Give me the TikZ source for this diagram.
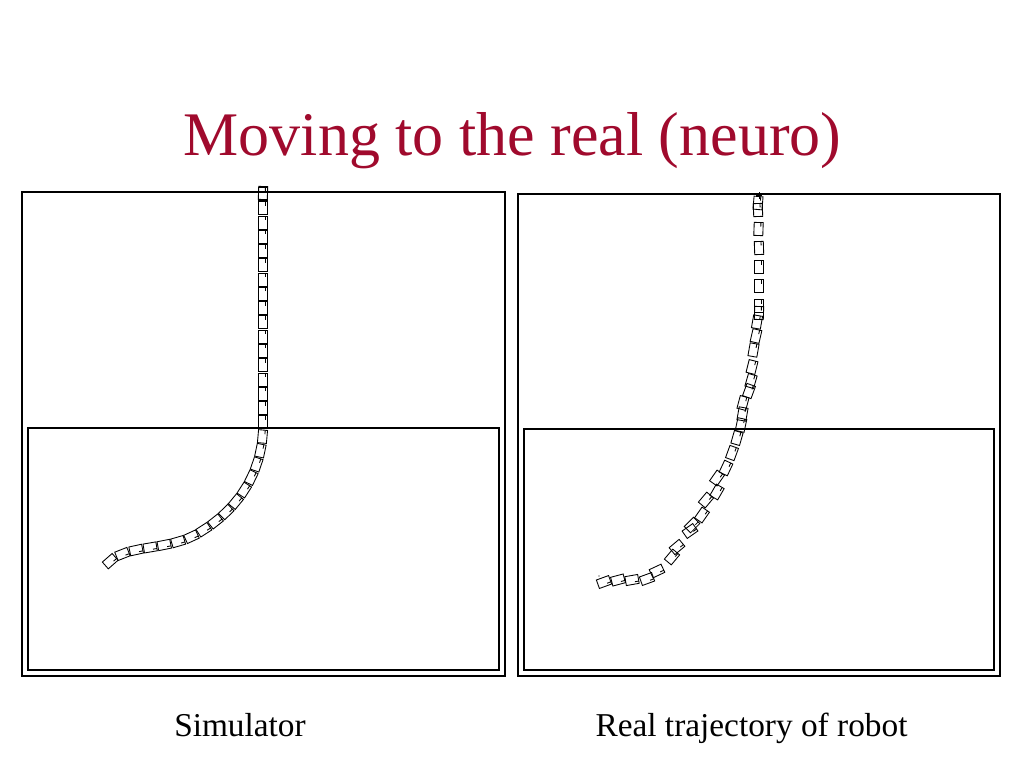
\documentclass[tikz,border=0pt]{standalone}
\usepackage{fontspec}
\setmainfont{Liberation Serif}
\usetikzlibrary{decorations.markings}
\definecolor{titlered}{RGB}{160,10,45}
\tikzset{
  outerframe/.style={draw=black,line width=1.2pt},
  innerframe/.style={draw=black,line width=0.9pt},
  robotline/.style={draw=black,line width=0.65pt},
  robot/.pic={
    \draw[robotline] (-6.5,-4.5) rectangle (6.5,4.5);
    \draw[robotline] (-6.5,-2.2) -- (-2.5,-2.2);
  },
  titletext/.style={anchor=base,inner sep=0pt,text=titlered,font=\fontsize{46.5}{50}\selectfont},
  captiontext/.style={anchor=base,inner sep=0pt,text=black,font=\fontsize{25}{28}\selectfont},
  robotpath/.style={
    decoration={markings,
      mark=between positions 4.5pt and -3pt step 10.7pt with {
        \draw[robotline] (-6.5,-4.5) rectangle (6.5,4.5);
        \draw[robotline] (-6.5,-2.2) -- (-2.5,-2.2);}},
    postaction={decorate}}
}
\begin{document}
\begin{tikzpicture}[x=0.75pt,y=-0.75pt]
\useasboundingbox[fill=white] (0,0) rectangle (1024,768);

% title and captions
\node[titletext] (title) at (512.5,155) {Moving to the real (neuro)};
\node[captiontext] (simlabel) at (240,736) {Simulator};
\node[captiontext] (reallabel) at (751.5,736) {Real trajectory of robot};

% left panel
\draw[outerframe] (22,192) rectangle (505,676);
\draw[innerframe] (28,428) rectangle (499,670);

% right panel
\draw[outerframe] (518,194) rectangle (1000,676);
\draw[innerframe] (524,429) rectangle (994,670);

% simulated trajectory
\pic[rotate=-92] at (263,193) {robot};
\path[robotpath] (263,188) -- (263,425)
  .. controls (263,470) and (240,510) .. (195,535)
  .. controls (170,548) and (140,546) .. (120,555)
  .. controls (113,558) and (107,563) .. (102,571);

% real trajectory
\draw[robotline] (756,195) -- (762,195) (759,192) -- (759,199);
\foreach \px/\py/\ang in {
  758/203/-95, 758/210/-88, 758.5/229/-92, 759/248/-88, 759/267/-90,
  759/286/-90, 759/306/-90, 759/313/-92, 757/322/-100, 756/336/-103,
  753.5/350/-100, 752/367/-104, 751/381/-106, 749/391/-110, 743/403/-105,
  742.5/414/-100, 741/425/-102, 737/438/-106, 732/453/-110, 726/468/-115,
  717/478/-125, 717/492/-120, 706/500/-130, 702/515/-125, 692/525/-135,
  690/531/-145, 677/547/-140, 672/557/-130, 657/571/-155, 647/579/-160,
  632/580/-170, 618/580/-165, 604/582/-160} {
  \pic[rotate=\ang] at (\px,\py) {robot};
}
\fill (599,576) circle (0.6);
\end{tikzpicture}
\end{document}
